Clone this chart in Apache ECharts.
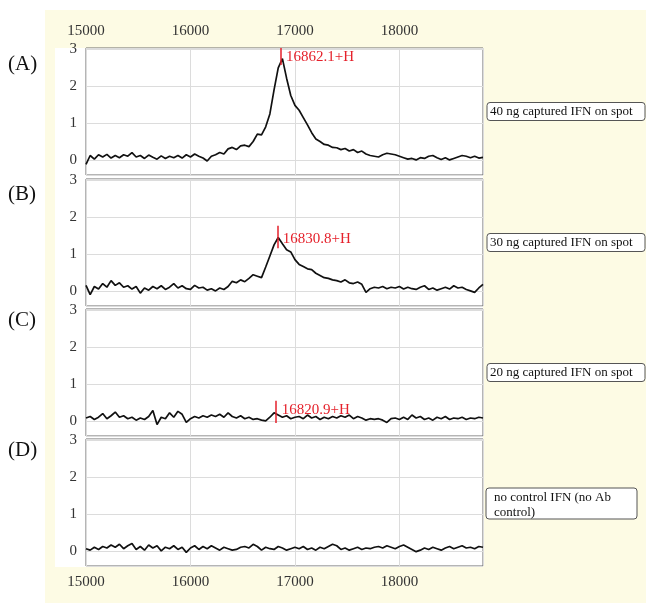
<!DOCTYPE html>
<html>
<head>
<meta charset="utf-8">
<script src="https://cdn.jsdelivr.net/npm/echarts@6/dist/echarts.min.js"></script>
<style>
html, body { margin: 0; padding: 0; background: #fff; }
#chart { width: 646px; height: 603px; }
</style>
</head>
<body>
<div id="chart"></div>
<script>
// mass grid of the spectra, one sample every 40 Da from 15000 to 18800
var massStep = 40;
var masses = [];
for (var m = 15000; m <= 18800; m += massStep) masses.push(m);

// intensities (rows of 400 Da)
var spectrumA = [
    -0.12, 0.12, 0.02, 0.14, 0.08, 0.15, 0.05, 0.12, 0.06, 0.14,
    0.10, 0.20, 0.08, 0.12, 0.04, 0.13, 0.07, 0.02, 0.11, 0.04,
    0.10, 0.06, 0.12, 0.05, 0.14, 0.08, 0.16, 0.10, 0.05, -0.03,
    0.10, 0.14, 0.20, 0.16, 0.30, 0.34, 0.28, 0.38, 0.40, 0.36,
    0.50, 0.70, 0.68, 0.90, 1.25, 1.90, 2.50, 2.75, 2.22, 1.75,
    1.48, 1.35, 1.15, 0.95, 0.74, 0.57, 0.50, 0.42, 0.40, 0.34,
    0.33, 0.28, 0.31, 0.24, 0.28, 0.20, 0.24, 0.16, 0.12, 0.10,
    0.08, 0.14, 0.18, 0.16, 0.14, 0.10, 0.06, 0.02, 0.04, 0.00,
    0.06, 0.04, 0.10, 0.12, 0.06, 0.01, 0.06, 0.00, 0.04, 0.08,
    0.12, 0.10, 0.06, 0.10, 0.05, 0.07
];
var spectrumB = [
    0.15, -0.10, 0.12, 0.05, 0.20, 0.10, 0.28, 0.15, 0.22, 0.10,
    0.14, 0.05, 0.12, -0.06, 0.08, 0.02, 0.12, 0.06, 0.14, 0.04,
    0.10, 0.20, 0.08, 0.14, 0.06, 0.04, 0.15, 0.08, 0.10, 0.02,
    0.06, 0.00, 0.08, 0.04, 0.12, 0.26, 0.22, 0.30, 0.25, 0.34,
    0.44, 0.40, 0.36, 0.65, 0.95, 1.25, 1.45, 1.28, 1.12, 1.06,
    0.85, 0.72, 0.66, 0.60, 0.58, 0.48, 0.42, 0.36, 0.34, 0.30,
    0.28, 0.24, 0.30, 0.22, 0.20, 0.24, 0.18, -0.04, 0.06, 0.10,
    0.08, 0.12, 0.06, 0.10, 0.08, 0.12, 0.05, 0.10, 0.06, 0.04,
    0.10, 0.14, 0.04, 0.08, 0.02, 0.06, 0.10, 0.05, 0.14, 0.08,
    0.10, 0.04, 0.00, -0.04, 0.08, 0.18
];
var spectrumC = [
    0.08, 0.12, 0.04, 0.10, 0.20, 0.06, 0.14, 0.24, 0.10, 0.14,
    0.06, 0.10, 0.02, 0.08, 0.04, 0.12, 0.28, -0.10, 0.10, 0.06,
    0.22, 0.10, 0.26, 0.18, -0.04, 0.06, 0.12, 0.08, 0.14, 0.10,
    0.16, 0.12, 0.18, 0.10, 0.22, 0.12, 0.08, 0.14, 0.06, 0.10,
    0.04, 0.06, 0.02, 0.00, 0.10, 0.22, 0.16, 0.10, 0.14, 0.06,
    0.10, 0.12, 0.06, 0.16, 0.08, 0.12, 0.04, 0.10, 0.06, 0.12,
    0.08, 0.14, 0.10, 0.16, 0.06, 0.12, 0.08, 0.02, 0.06, 0.04,
    0.06, 0.02, -0.04, 0.06, 0.08, 0.04, 0.10, 0.04, 0.16, 0.08,
    0.12, 0.04, 0.08, 0.02, 0.10, 0.06, 0.12, 0.04, 0.08, 0.06,
    0.10, 0.04, 0.08, 0.06, 0.10, 0.08
];
var spectrumD = [
    0.06, 0.02, 0.10, 0.04, 0.12, 0.08, 0.16, 0.10, 0.18, 0.06,
    0.14, 0.20, 0.04, 0.12, 0.02, 0.16, 0.08, 0.14, 0.00, 0.10,
    0.06, 0.14, 0.04, 0.10, -0.04, 0.08, 0.14, 0.04, 0.12, 0.06,
    0.14, 0.08, 0.02, 0.10, 0.06, 0.02, 0.04, 0.10, 0.12, 0.08,
    0.18, 0.12, 0.02, 0.10, 0.06, 0.04, 0.12, 0.08, 0.02, 0.06,
    0.10, 0.06, 0.12, 0.04, 0.08, 0.02, 0.10, 0.06, 0.12, 0.18,
    0.14, 0.04, 0.08, 0.02, 0.06, 0.10, 0.04, 0.08, 0.06, 0.10,
    0.12, 0.08, 0.14, 0.10, 0.06, 0.12, 0.16, 0.10, 0.04, -0.02,
    0.02, 0.08, 0.04, 0.10, 0.06, 0.02, 0.08, 0.12, 0.06, 0.10,
    0.14, 0.08, 0.10, 0.06, 0.12, 0.10
];

var panelNames = ['(A)', '(B)', '(C)', '(D)'];
var boxTexts = [
    '40 ng captured IFN on spot',
    '30 ng captured IFN on spot',
    '20 ng captured IFN on spot',
    'no control IFN (no Ab\ncontrol)'
];
// peak markers (panels A..C)
var peakMass = [16862.1, 16830.8, 16820.9];
var peakLabels = ['16862.1+H', '16830.8+H', '16820.9+H'];
var markerLow = [2.58, 1.16, -0.06];
var markerHigh = [3.04, 1.77, 0.55];
var labelLevel = [2.8, 1.4, 0.3];

var xMin = 15000, xMax = 18800, yMin = -0.41, yMax = 3.04;

var spectra = [spectrumA, spectrumB, spectrumC, spectrumD];
var gridTops = [48, 179, 309, 439];
var serif = '"Liberation Serif", "DejaVu Serif", serif';

var grids = [], xAxes = [], yAxes = [], series = [], graphics = [];

// page backgrounds
graphics.push({ type: 'rect', z: -2, shape: { x: 45, y: 10, width: 601, height: 593 }, style: { fill: '#fdfbe4' } });
graphics.push({ type: 'rect', z: -1, shape: { x: 55, y: 48, width: 428, height: 519 }, style: { fill: '#fff' } });

for (var i = 0; i < 4; i++) {
    grids.push({
        left: 86, width: 397, top: gridTops[i], height: 127,
        show: true, backgroundColor: '#fff', borderColor: '#6b6b6b', borderWidth: 1
    });
    xAxes.push({
        type: 'value', gridIndex: i, min: xMin, max: xMax, interval: 1000,
        position: i === 0 ? 'top' : 'bottom',
        axisLine: { show: false }, axisTick: { show: false },
        axisLabel: {
            show: i === 0 || i === 3, margin: 9,
            color: '#333', fontSize: 15, fontFamily: serif,
            formatter: function (v) { return v % 1000 === 0 ? String(v) : ''; }
        },
        splitLine: { show: true, lineStyle: { color: '#dcdcdc', width: 1 } }
    });
    yAxes.push({
        type: 'value', gridIndex: i, min: yMin, max: yMax, splitNumber: 3,
        axisLine: { show: false }, axisTick: { show: false },
        axisLabel: {
            margin: 9, color: '#333', fontSize: 15, fontFamily: serif,
            formatter: function (v) {
                return Math.abs(v - Math.round(v)) < 1e-6 ? String(Math.round(v)) : '';
            }
        },
        splitLine: { show: true, lineStyle: { color: '#dcdcdc', width: 1 } }
    });

    var pts = [];
    for (var j = 0; j < masses.length; j++) pts.push([masses[j], spectra[i][j]]);

    var s = {
        type: 'line', xAxisIndex: i, yAxisIndex: i, data: pts,
        symbol: 'none', animation: false, silent: true,
        lineStyle: { color: '#111', width: 1.7 }
    };
    if (i < 3) {
        s.markLine = {
            silent: true, symbol: ['none', 'none'], animation: false,
            label: { show: false },
            lineStyle: { color: '#e5212b', width: 1.5, type: 'solid' },
            data: [[{ coord: [peakMass[i], markerLow[i]] }, { coord: [peakMass[i], markerHigh[i]] }]]
        };
        s.markPoint = {
            silent: true, animation: false, symbol: 'rect', symbolSize: 1,
            itemStyle: { color: 'rgba(0,0,0,0)' },
            label: {
                show: true, position: 'right', distance: 5,
                color: '#e5212b', fontSize: 15, fontFamily: serif,
                formatter: peakLabels[i]
            },
            data: [{ coord: [peakMass[i], labelLevel[i]] }]
        };
    }
    series.push(s);

    graphics.push({
        type: 'text', left: 8, top: gridTops[i] + [6, 5, 1, 1][i],
        style: { text: panelNames[i], font: '21px ' + serif, fill: '#111' }
    });
}

// condition boxes on the right
var boxCenters = [111.5, 242.5, 372.5];
for (var k = 0; k < 3; k++) {
    graphics.push({ type: 'rect', z: 5, shape: { x: 487, y: boxCenters[k] - 9, width: 158, height: 18, r: 3 },
        style: { fill: '#fff', stroke: '#555', lineWidth: 1 } });
    graphics.push({ type: 'text', z: 6, x: 490, y: boxCenters[k],
        style: { text: boxTexts[k], font: '13px ' + serif, fill: '#111', verticalAlign: 'middle' } });
}
graphics.push({ type: 'rect', z: 5, shape: { x: 486, y: 488, width: 151, height: 31, r: 3 },
    style: { fill: '#fff', stroke: '#555', lineWidth: 1 } });
graphics.push({ type: 'text', z: 6, x: 494, y: 490,
    style: { text: boxTexts[3], font: '13px ' + serif, fill: '#111', lineHeight: 15, verticalAlign: 'top' } });

var chart = echarts.init(document.getElementById('chart'));
chart.setOption({
    backgroundColor: '#fff',
    animation: false,
    grid: grids,
    xAxis: xAxes,
    yAxis: yAxes,
    series: series,
    graphic: graphics
});
</script>
</body>
</html>
